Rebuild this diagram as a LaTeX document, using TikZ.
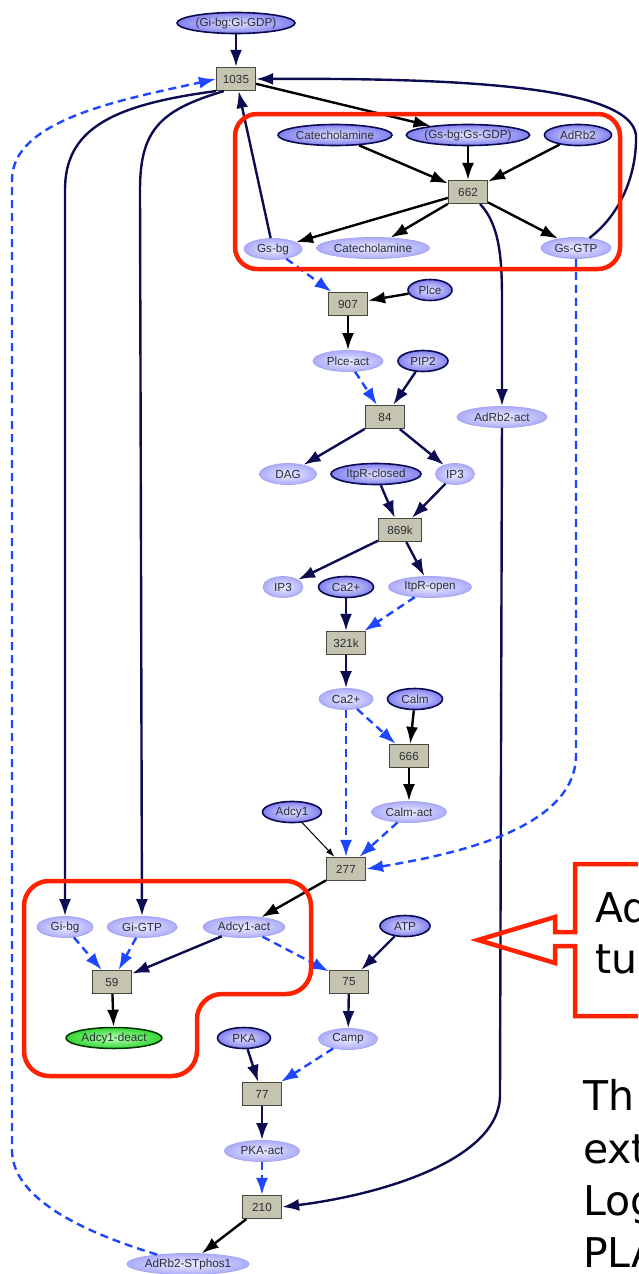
\documentclass[tikz,border=0pt]{standalone}
\usepackage{fontspec}
\setmainfont{Liberation Sans}
\newfontfamily\notefamily{DejaVu Sans}
\usetikzlibrary{arrows.meta,shapes.geometric}

\definecolor{navyline}{RGB}{12,12,80}
\definecolor{modblue}{RGB}{30,70,255}
\definecolor{hired}{RGB}{255,34,0}
\definecolor{labelgray}{RGB}{45,45,55}
\definecolor{srcin}{RGB}{228,228,255}
\definecolor{srcout}{RGB}{128,128,240}
\definecolor{poolin}{RGB}{236,236,255}
\definecolor{poolout}{RGB}{172,172,250}
\definecolor{poolline}{RGB}{165,165,240}
\definecolor{rxnfill}{RGB}{196,196,176}
\definecolor{rxnline}{RGB}{70,70,60}
\definecolor{deactin}{RGB}{180,255,180}
\definecolor{deactout}{RGB}{50,215,50}

\newcommand\molfont{\fontsize{11.7}{13}\selectfont}
\newcommand\notefont{\notefamily\fontsize{41}{49}\selectfont}

\begin{document}
\begin{tikzpicture}[x=1pt, y=-1pt]
\tikzset{
  lbl/.style={font=\molfont, text=labelgray},
  src/.style={lbl, ellipse, draw=navyline, line width=1.6pt, inner sep=0pt, minimum height=21pt, inner color=srcin, outer color=srcout, minimum width=#1},
  pool/.style={lbl, ellipse, draw=poolline, line width=0.8pt, inner sep=0pt, minimum height=21pt, inner color=poolin, outer color=poolout, minimum width=#1},
  endprod/.style={lbl, ellipse, draw=black!80!green, line width=1.5pt, inner sep=0pt, minimum height=21pt, inner color=deactin, outer color=deactout, minimum width=#1},
  rxn/.style={lbl, rectangle, draw=rxnline, fill=rxnfill, line width=1.2pt, inner sep=0pt, minimum width=39pt, minimum height=23pt},
  flow/.style={-{Latex[length=17pt,width=12pt]}, navyline, line width=2.4pt},
  conv/.style={-{Latex[length=17pt,width=12pt]}, black, line width=2.4pt},
  modi/.style={-{Latex[length=17pt,width=12pt]}, modblue, line width=2.4pt, dash pattern=on 8pt off 5pt},
  hilite/.style={draw=hired, line width=4.5pt},
  note/.style={font=\notefont, text=black, anchor=base west, inner sep=0pt},
}
\useasboundingbox (0,0) rectangle (638,1274);
\clip (0,0) rectangle (638,1274);
%\draw [lightgray, dashed] (0,0) grid[step=50] (638,1274);

% species
\node [src=118pt] (GiGDP) at (236,23) {(Gi-bg:Gi-GDP)};
\node [src=114pt] (CatD) at (335,135) {Catecholamine};
\node [src=122pt] (GsGDP) at (468,135) {(Gs-bg:Gs-GDP)};
\node [src=67pt] (AdRb2) at (578,135) {AdRb2};
\node [pool=58pt] (Gsbg) at (273,249) {Gs-bg};
\node [pool=113pt] (CatL) at (373,248) {Catecholamine};
\node [pool=70pt] (GsGTP) at (576,248) {Gs-GTP};
\node [src=44pt] (Plce) at (430,290) {Plce};
\node [pool=70pt] (PlceAct) at (348,361) {Plce-act};
\node [src=50pt] (PIP2) at (423,361) {PIP2};
\node [pool=90pt] (AdRb2Act) at (502,417) {AdRb2-act};
\node [pool=57pt] (DAG) at (288,474) {DAG};
\node [src=90pt] (ItpRc) at (376,474) {ItpR-closed};
\node [pool=39pt] (IP3a) at (455,474) {IP3};
\node [pool=40pt] (IP3b) at (283,587) {IP3};
\node [src=55pt] (Ca2D) at (346,587) {Ca2+};
\node [pool=83pt] (ItpRo) at (430,587) {ItpR-open};
\node [pool=54pt] (Ca2L) at (346,699) {Ca2+};
\node [src=55pt] (Calm) at (415,699) {Calm};
\node [src=59pt] (Adcy1) at (292,812) {Adcy1};
\node [pool=75pt] (CalmAct) at (409,812) {Calm-act};
\node [pool=56pt] (Gibg) at (65,927) {Gi-bg};
\node [pool=70pt] (GiGTP) at (142,927) {Gi-GTP};
\node [pool=82pt] (Adcy1Act) at (244,927) {Adcy1-act};
\node [src=50pt] (ATP) at (405,926) {ATP};
\node [endprod=96pt] (Adcy1De) at (114,1038) {Adcy1-deact};
\node [src=53pt] (PKA) at (244,1038) {PKA};
\node [pool=59pt] (Camp) at (348,1039) {Camp};
\node [pool=75pt] (PKAAct) at (262,1151) {PKA-act};
\node [pool=121pt] (AdRb2ST) at (188,1264) {AdRb2-STphos1};

% reactions
\node [rxn] (R1035) at (236,79) {1035};
\node [rxn] (R662) at (468,192) {662};
\node [rxn] (R907) at (348,304) {907};
\node [rxn] (R84) at (385,417) {84};
\node [rxn, minimum width=43pt] (R869) at (400,530) {869k};
\node [rxn] (R321) at (346,643) {321k};
\node [rxn] (R666) at (409,756) {666};
\node [rxn] (R277) at (346,869) {277};
\node [rxn] (R59) at (112,982) {59};
\node [rxn] (R75) at (349,982) {75};
\node [rxn] (R77) at (262,1094) {77};
\node [rxn] (R210) at (262,1207) {210};

\coordinate (GiBgDrop) at (65,190);
\coordinate (GiGTPDrop) at (140,190);
\coordinate (LoopR) at (636,135);
\coordinate (AdRbDrop) at (502,300);
\coordinate (AdRbTurn) at (500,1095);
\coordinate (GTPTurn) at (576,755);
\coordinate (BackLow) at (12,1150);
\coordinate (BackHigh) at (12,180);

% conversions
\draw [flow] (GiGDP) -- (R1035);
\draw [flow] (R1035.south west) .. controls (110,105) and (65,130) .. (GiBgDrop) -- (Gibg);
\draw [flow] (R1035.south west) ++(8,0) .. controls (160,110) and (140,130) .. (GiGTPDrop) -- (GiGTP);
\draw [conv] (R1035) -- (GsGDP);
\draw [flow] (Gsbg) -- (R1035);
\draw [flow] (GsGTP) .. controls (620,215) and (637,175) .. (LoopR) .. controls (630,85) and (450,78) .. (R1035.east);
\draw [conv] (CatD) -- (R662);
\draw [conv] (GsGDP) -- (R662);
\draw [conv] (AdRb2) -- (R662);
\draw [conv] (R662) -- (Gsbg);
\draw [conv] (R662) -- (CatL);
\draw [conv] (R662) -- (GsGTP);
\draw [flow] (R662.south east) ++(-8,0) .. controls (500,225) and (502,260) .. (AdRbDrop) -- (AdRb2Act);
\draw [conv] (Plce) -- (R907);
\draw [conv] (R907) -- (PlceAct);
\draw [flow] (PIP2) -- (R84);
\draw [flow] (R84) -- (DAG);
\draw [flow] (R84) -- (IP3a);
\draw [flow] (ItpRc) -- (R869);
\draw [flow] (IP3a) -- (R869);
\draw [flow] (R869) -- (IP3b);
\draw [flow] (R869) -- (ItpRo);
\draw [flow] (Ca2D) -- (R321);
\draw [flow] (R321) -- (Ca2L);
\draw [conv] (Calm) -- (R666);
\draw [conv] (R666) -- (CalmAct);
\draw [-{Latex[length=9pt,width=6pt]}, black, line width=1pt] (Adcy1) -- (R277);
\draw [conv] (R277) -- (Adcy1Act);
\draw [flow] (Adcy1Act) -- (R59);
\draw [conv] (R59) -- (Adcy1De);
\draw [flow] (ATP) -- (R75);
\draw [flow] (R75) -- (Camp);
\draw [flow] (PKA) -- (R77);
\draw [flow] (R77) -- (PKAAct);
\draw [flow] (AdRb2Act) -- (AdRbTurn) .. controls (500,1160) and (380,1195) .. (R210.east);
\draw [conv] (R210) -- (AdRb2ST);

% modifiers
\draw [modi] (Gsbg) -- (R907);
\draw [modi] (PlceAct) -- (R84);
\draw [modi] (ItpRo) -- (R321);
\draw [modi] (Ca2L) -- (R666);
\draw [modi] (Ca2L) -- (R277);
\draw [modi] (CalmAct) -- (R277);
\draw [modi] (GsGTP) -- (GTPTurn) .. controls (576,830) and (450,855) .. (R277.east);
\draw [modi] (Gibg) -- (R59);
\draw [modi] (GiGTP) -- (R59);
\draw [modi] (Adcy1Act) -- (R75);
\draw [modi] (Camp) -- (R77);
\draw [modi] (PKAAct) -- (R210);
\draw [modi] (AdRb2ST) .. controls (60,1225) and (12,1190) .. (BackLow) -- (BackHigh) .. controls (12,120) and (120,100) .. (R1035.west);

% highlights
\draw [hilite, rounded corners=22pt] (235,114) rectangle (620,269);
\draw [hilite, rounded corners=25pt] (24,881) -- (311,881) -- (311,994) -- (197,994) -- (197,1076) -- (24,1076) -- cycle;
\draw [hilite] (660,864) -- (575,864) -- (575,932) -- (555,932) -- (555,917) -- (478,940)
   -- (555,963) -- (555,946) -- (575,946) -- (575,1016) -- (660,1016);

% notes
\node [note] (NoteA1) at (595,922) {Ad};
\node [note] (NoteA2) at (595,973) {tu};
\node [note] (NoteB1) at (583,1110) {Th};
\node [note] (NoteB2) at (583,1163) {ext};
\node [note] (NoteB3) at (583,1215) {Log};
\node [note] (NoteB4) at (583,1267) {PLA};

\end{tikzpicture}
\end{document}
